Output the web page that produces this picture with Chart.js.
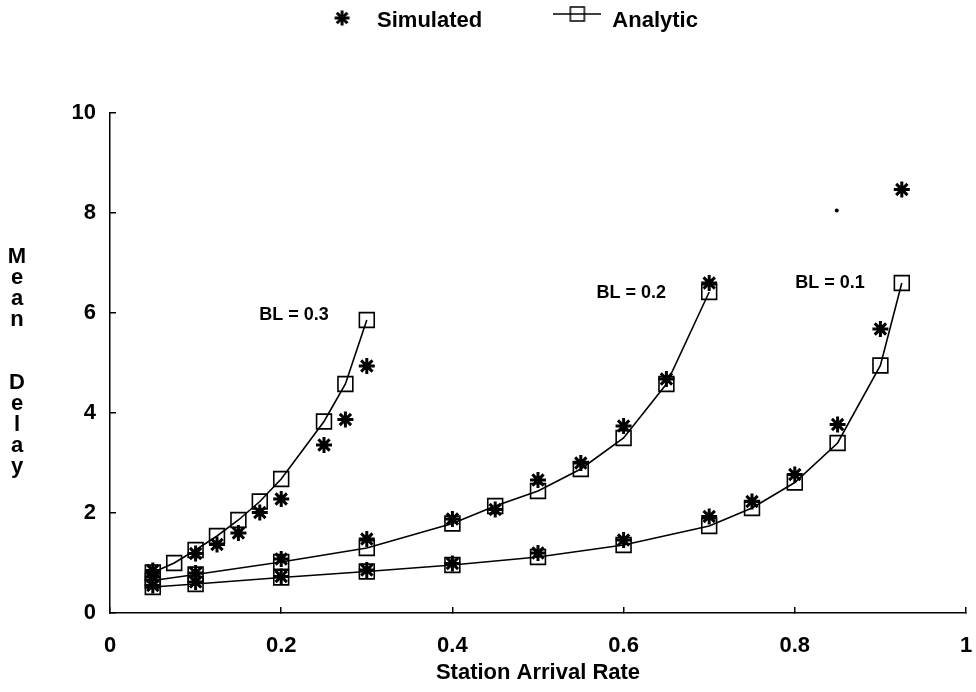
<!DOCTYPE html>
<html>
<head>
<meta charset="utf-8">
<title>Mean Delay vs Station Arrival Rate</title>
<script src="https://cdn.jsdelivr.net/npm/chart.js@4.4.1/dist/chart.umd.min.js"></script>
<style>
  html, body { margin: 0; padding: 0; background: #fff; }
</style>
</head>
<body>
<canvas id="delayChart" width="976" height="692"></canvas>
<script>
// values
const bl3Rate = [0.05, 0.075, 0.1, 0.125, 0.15, 0.175, 0.2, 0.25, 0.275, 0.3];
const bl3Analytic = [0.81, 1.0, 1.26, 1.54, 1.86, 2.23, 2.68, 3.83, 4.58, 5.86];
const bl3SimRate = [0.05, 0.1, 0.125, 0.15, 0.175, 0.2, 0.25, 0.275, 0.3];
const bl3Simulated = [0.85, 1.19, 1.37, 1.6, 2.01, 2.28, 3.36, 3.87, 4.94];

const bl2Rate = [0.05, 0.1, 0.2, 0.3, 0.4, 0.45, 0.5, 0.55, 0.6, 0.65, 0.7];
const bl2Analytic = [0.65, 0.77, 1.02, 1.3, 1.79, 2.14, 2.44, 2.88, 3.5, 4.58, 6.42];
const bl2Simulated = [0.72, 0.8, 1.08, 1.48, 1.88, 2.07, 2.66, 3.0, 3.74, 4.68, 6.6];

const bl1Rate = [0.05, 0.1, 0.2, 0.3, 0.4, 0.5, 0.6, 0.7, 0.75, 0.8, 0.85, 0.9, 0.925];
const bl1Analytic = [0.52, 0.58, 0.71, 0.83, 0.96, 1.12, 1.36, 1.74, 2.1, 2.61, 3.4, 4.95, 6.6];
const bl1Simulated = [0.55, 0.62, 0.73, 0.86, 0.99, 1.2, 1.46, 1.93, 2.23, 2.77, 3.77, 5.68, 8.47];

// stray speck in the original figure
const strayRate = [0.849];
const strayDelay = [8.05];

const blLabels = ['BL = 0.3', 'BL = 0.2', 'BL = 0.1'];
const blLabelRate = [0.215, 0.609, 0.841];
const blLabelDelay = [5.96, 6.4, 6.6];

const xTickLabels = ['0', '0.2', '0.4', '0.6', '0.8', '1'];
const yTickLabels = ['0', '2', '4', '6', '8', '10'];
const xTitle = 'Station Arrival Rate';
const yTitle = 'Mean Delay';

const FONT = "'Liberation Sans', Arial, Helvetica, sans-serif";
Chart.defaults.font.family = FONT;
Chart.defaults.color = '#000';

function pts(xs, ys) {
    return xs.map((x, i) => ({x: x, y: ys[i]}));
}

function starIcon() {
    const c = document.createElement('canvas');
    c.width = 20; c.height = 36;
    const g = c.getContext('2d');
    g.strokeStyle = '#000';
    g.lineWidth = 3;
    const cx = 10, cy = 15, r = 7.5;
    for (let k = 0; k < 4; k++) {
        const a = k * Math.PI / 4;
        g.beginPath();
        g.moveTo(cx - r * Math.cos(a), cy - r * Math.sin(a));
        g.lineTo(cx + r * Math.cos(a), cy + r * Math.sin(a));
        g.stroke();
    }
    return c;
}

function lineBoxIcon() {
    const c = document.createElement('canvas');
    c.width = 48; c.height = 36;
    const g = c.getContext('2d');
    g.strokeStyle = '#000';
    g.lineWidth = 1.5;
    g.beginPath();
    g.moveTo(0, 11); g.lineTo(48, 11);
    g.stroke();
    g.strokeRect(17, 4, 14, 14);
    return c;
}

const simStyle = {
    showLine: false,
    pointStyle: 'star',
    pointRadius: 8,
    pointHoverRadius: 8,
    pointBorderWidth: 3,
    borderColor: '#000',
    backgroundColor: '#000',
    order: 0
};
const anaStyle = {
    showLine: true,
    tension: 0,
    borderColor: '#000',
    borderWidth: 1.6,
    pointStyle: 'rect',
    pointRadius: 10.5,
    pointHoverRadius: 10.5,
    pointBorderWidth: 1.6,
    pointBackgroundColor: 'rgba(0,0,0,0)',
    pointBorderColor: '#000',
    order: 1
};

const datasets = [
    Object.assign({label: 'Analytic', data: pts(bl3Rate, bl3Analytic)}, anaStyle),
    Object.assign({label: 'Analytic', data: pts(bl2Rate, bl2Analytic)}, anaStyle),
    Object.assign({label: 'Analytic', data: pts(bl1Rate, bl1Analytic)}, anaStyle),
    Object.assign({label: 'Simulated', data: pts(bl3SimRate, bl3Simulated)}, simStyle),
    Object.assign({label: 'Simulated', data: pts(bl2Rate, bl2Simulated)}, simStyle),
    Object.assign({label: 'Simulated', data: pts(bl1Rate, bl1Simulated)}, simStyle),
    {label: 'speck', data: pts(strayRate, strayDelay), showLine: false, pointStyle: 'circle',
     pointRadius: 2, pointBorderWidth: 0, backgroundColor: '#000', borderColor: '#000'}
];

// legend needs extra room below it before the plot starts
const legendGap = {
    id: 'legendGap',
    beforeInit(chart) {
        const fit = chart.legend.fit;
        chart.legend.fit = function () {
            fit.bind(chart.legend)();
            this.height += 71;
        };
    }
};

// y title is printed one letter per line
const stackedYTitle = {
    id: 'stackedYTitle',
    afterDraw(chart) {
        const ctx = chart.ctx;
        const area = chart.chartArea;
        ctx.save();
        ctx.font = 'bold 22px ' + FONT;
        ctx.fillStyle = '#000';
        ctx.textAlign = 'center';
        ctx.textBaseline = 'alphabetic';
        let y = (area.top + area.bottom) / 2 - 100;
        for (const ch of yTitle) {
            if (ch === ' ') { y += 42; continue; }
            ctx.fillText(ch, 17, y);
            y += 21;
        }
        ctx.restore();
    }
};

const curveLabels = {
    id: 'curveLabels',
    afterDatasetsDraw(chart) {
        const ctx = chart.ctx;
        const xs = chart.scales.x, ys = chart.scales.y;
        ctx.save();
        ctx.font = 'bold 18px ' + FONT;
        ctx.fillStyle = '#000';
        ctx.textAlign = 'center';
        ctx.textBaseline = 'middle';
        blLabels.forEach((t, i) => {
            ctx.fillText(t, xs.getPixelForValue(blLabelRate[i]), ys.getPixelForValue(blLabelDelay[i]));
        });
        ctx.restore();
    }
};

const ctx = document.getElementById('delayChart').getContext('2d');
window.delayChart = new Chart(ctx, {
    type: 'scatter',
    data: {datasets: datasets},
    options: {
        responsive: false,
        animation: false,
        events: [],
        layout: {autoPadding: false, padding: {left: 50, right: 10, top: 0, bottom: 0}},
        plugins: {
            tooltip: {enabled: false},
            legend: {
                position: 'top',
                labels: {
                    usePointStyle: true,
                    pointStyleWidth: 48,
                    padding: 10,
                    color: '#000',
                    font: {size: 22, weight: 'bold'},
                    generateLabels: () => [
                        {text: 'Simulated' + ' '.repeat(10), pointStyle: starIcon(), fillStyle: '#000',
                         strokeStyle: '#000', lineWidth: 1, hidden: false, datasetIndex: 3},
                        {text: 'Analytic', pointStyle: lineBoxIcon(), fillStyle: '#000',
                         strokeStyle: '#000', lineWidth: 1, hidden: false, datasetIndex: 0}
                    ]
                }
            }
        },
        scales: {
            x: {
                type: 'linear',
                min: 0,
                max: 1,
                afterFit: (s) => { s.height = 79; s.paddingRight = 0; },
                ticks: {
                    stepSize: 0.2,
                    padding: 26,
                    color: '#000',
                    font: {size: 22, weight: 'bold'},
                    callback: (v, i) => xTickLabels[i]
                },
                grid: {drawOnChartArea: false, tickLength: -6, color: '#000', lineWidth: 1.5},
                border: {display: true, color: '#000', width: 1.5},
                title: {
                    display: true,
                    text: xTitle,
                    color: '#000',
                    font: {size: 22, weight: 'bold'},
                    padding: {top: 0, bottom: 6}
                }
            },
            y: {
                type: 'linear',
                min: 0,
                max: 10,
                afterFit: (s) => { s.width = 60; },
                ticks: {
                    stepSize: 2,
                    padding: 20,
                    color: '#000',
                    font: {size: 22, weight: 'bold'},
                    callback: (v, i) => yTickLabels[i]
                },
                grid: {drawOnChartArea: false, tickLength: -6, color: '#000', lineWidth: 1.5},
                border: {display: true, color: '#000', width: 1.5}
            }
        }
    },
    plugins: [legendGap, stackedYTitle, curveLabels]
});
</script>
</body>
</html>
